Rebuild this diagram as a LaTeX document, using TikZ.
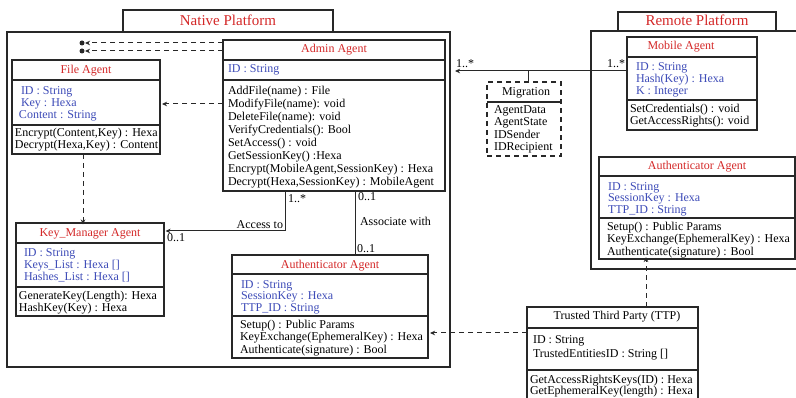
\documentclass[tikz,border=0pt]{standalone}
\usepackage{fontspec}
\setmainfont{Liberation Serif}
\usetikzlibrary{arrows.meta}

\definecolor{titlered}{RGB}{212,40,40}
\definecolor{attrblue}{RGB}{62,76,184}
\definecolor{linec}{RGB}{40,40,40}

\begin{document}
\begin{tikzpicture}[x=1pt,y=-1pt,
  every node/.style={inner sep=0pt, outer sep=0pt},
  txt/.style={font=\fontsize{12}{13}\selectfont},
  cls/.style={draw=linec, line width=1.3pt, fill=white, anchor=north west},
  platform/.style={draw=linec, line width=1.3pt, anchor=north west},
  ptitle/.style={font=\fontsize{15}{16}\selectfont, text=titlered, anchor=base},
  ttl/.style={txt, text=titlered, anchor=base},
  attr/.style={txt, text=attrblue, anchor=base west},
  meth/.style={txt, text=black, anchor=base west},
  lbl/.style={txt, text=black},
  sepline/.style={draw=linec, line width=1.3pt},
  assoc/.style={draw=linec, line width=1pt},
  dep/.style={draw=linec, line width=1pt, dash pattern=on 5pt off 4pt},
  tip/.style={-{Stealth[length=5pt,width=4.5pt,inset=1.5pt]}},
]
\useasboundingbox (0,0) rectangle (796,398);

% ---------- platforms ----------
\node[platform, minimum width=443pt, minimum height=335pt] (native) at (7,32) {};
\node[platform, fill=white, minimum width=210pt, minimum height=22pt] (nativeT) at (123,10) {};
\node[ptitle] at (228,26) {Native Platform};

\node[platform, minimum width=214pt, minimum height=238pt] (remote) at (591,31) {};
\node[platform, fill=white, minimum width=158pt, minimum height=19pt] (remoteT) at (618,12) {};
\node[ptitle] at (697,26) {Remote Platform};

% ---------- Admin Agent ----------
\node[cls, minimum width=222pt, minimum height=151pt] (admin) at (223,40) {};
\draw[sepline] (admin.west |- 0,60) -- (admin.east |- 0,60);
\draw[sepline] (admin.west |- 0,80) -- (admin.east |- 0,80);
\node[ttl] at (334,53) {Admin Agent};
\node[attr] at (228,73) {ID : String};
\node[meth] at (228,95) {AddFile(name) : File};
\node[meth] at (228,108) {ModifyFile(name): void};
\node[meth] at (228,121) {DeleteFile(name): void};
\node[meth] at (228,134) {VerifyCredentials(): Bool};
\node[meth] at (228,147) {SetAccess() : void};
\node[meth] at (228,160) {GetSessionKey() :Hexa};
\node[meth] at (228,173) {Encrypt(MobileAgent,SessionKey) : Hexa};
\node[meth] at (228,186) {Decrypt(Hexa,SessionKey) : MobileAgent};

% ---------- File Agent ----------
\node[cls, minimum width=148pt, minimum height=94pt] (file) at (12,60) {};
\draw[sepline] (file.west |- 0,80) -- (file.east |- 0,80);
\draw[sepline] (file.west |- 0,125) -- (file.east |- 0,125);
\node[ttl] at (86,74) {File Agent};
\node[attr] at (21,95) {ID : String};
\node[attr] at (21,107) {Key : Hexa};
\node[attr] at (19,119) {Content : String};
\node[meth] at (15,137) {Encrypt(Content,Key) : Hexa};
\node[meth] at (15,149) {Decrypt(Hexa,Key) : Content};

% ---------- Key_Manager Agent ----------
\node[cls, minimum width=148pt, minimum height=93pt] (keym) at (16,223) {};
\draw[sepline] (keym.west |- 0,243) -- (keym.east |- 0,243);
\draw[sepline] (keym.west |- 0,287) -- (keym.east |- 0,287);
\node[ttl] at (90,237) {Key\_Manager Agent};
\node[attr] at (24,257) {ID : String};
\node[attr] at (24,269) {Keys\_List : Hexa []};
\node[attr] at (24,281) {Hashes\_List : Hexa []};
\node[meth] at (19,300) {GenerateKey(Length): Hexa};
\node[meth] at (19,312) {HashKey(Key) : Hexa};

% ---------- Authenticator Agent (native) ----------
\node[cls, minimum width=196pt, minimum height=103pt] (authN) at (232,255) {};
\draw[sepline] (authN.west |- 0,274) -- (authN.east |- 0,274);
\draw[sepline] (authN.west |- 0,316) -- (authN.east |- 0,316);
\node[ttl] at (330,269) {Authenticator Agent};
\node[attr] at (241,289) {ID : String};
\node[attr] at (241,300) {SessionKey : Hexa};
\node[attr] at (241,312) {TTP\_ID : String};
\node[meth] at (240,329) {Setup() : Public Params};
\node[meth] at (240,341) {KeyExchange(EphemeralKey) : Hexa};
\node[meth] at (240,354) {Authenticate(signature) : Bool};

% ---------- Mobile Agent ----------
\node[cls, minimum width=130pt, minimum height=93pt] (mobile) at (627,37) {};
\draw[sepline] (mobile.west |- 0,57) -- (mobile.east |- 0,57);
\draw[sepline] (mobile.west |- 0,100) -- (mobile.east |- 0,100);
\node[ttl] at (681,50) {Mobile Agent};
\node[attr] at (636,71) {ID : String};
\node[attr] at (636,83) {Hash(Key) : Hexa};
\node[attr] at (636,95) {K : Integer};
\node[meth] at (630,113) {SetCredentials() : void};
\node[meth] at (630,125) {GetAccessRights(): void};

% ---------- Migration ----------
\node[cls, dep, line width=1.2pt, minimum width=74pt, minimum height=74pt] (migr) at (487,82) {};
\draw[sepline, line width=1.1pt] (migr.west |- 0,102) -- (migr.east |- 0,102);
\node[lbl, anchor=base] at (526,96) {Migration};
\node[meth] at (494,114) {AgentData};
\node[meth] at (494,126) {AgentState};
\node[meth] at (494,139) {IDSender};
\node[meth] at (494,151) {IDRecipient};

% ---------- Authenticator Agent (remote) ----------
\node[cls, minimum width=196pt, minimum height=102pt] (authR) at (599,157) {};
\draw[sepline] (authR.west |- 0,176) -- (authR.east |- 0,176);
\draw[sepline] (authR.west |- 0,218) -- (authR.east |- 0,218);
\node[ttl] at (697,170) {Authenticator Agent};
\node[attr] at (608,191) {ID : String};
\node[attr] at (608,202) {SessionKey : Hexa};
\node[attr] at (608,214) {TTP\_ID : String};
\node[meth] at (607,231) {Setup() : Public Params};
\node[meth] at (607,243) {KeyExchange(EphemeralKey) : Hexa};
\node[meth] at (607,256) {Authenticate(signature) : Bool};

% ---------- Trusted Third Party ----------
\node[cls, minimum width=171pt, minimum height=95pt] (ttp) at (527,307) {};
\draw[sepline] (ttp.west |- 0,328) -- (ttp.east |- 0,328);
\draw[sepline] (ttp.west |- 0,370) -- (ttp.east |- 0,370);
\node[lbl, anchor=base] at (617,320) {Trusted Third Party (TTP)};
\node[meth] at (533,344) {ID : String};
\node[meth] at (533,358) {TrustedEntitiesID : String []};
\node[meth] at (530,383) {GetAccessRightsKeys(ID) : Hexa};
\node[meth] at (530,395) {GetEphemeralKey(length) : Hexa};

% ---------- connectors ----------
% mobile agent migrates to the native platform
\coordinate (migIn) at ([xshift=5pt]native.east |- 0,71);
\draw[assoc, tip] (mobile.west |- 0,71) -- (migIn);
\coordinate (migJoin) at (528,71);
\draw[assoc] (migJoin) -- (migr.north -| migJoin);
\node[lbl, anchor=base west] at (456,68) {1..*};
\node[lbl, anchor=base east] at (625,68) {1..*};

% admin -> key manager
\draw[assoc, tip] (admin.south -| 285,0) |- ([xshift=1.5pt]keym.east |- 0,231);
\node[lbl, anchor=base west] at (288,203) {1..*};
\node[lbl, anchor=base east] at (283,229) {Access to};
\node[lbl, anchor=base west] at (167,242) {0..1};

% admin -- authenticator
\draw[assoc] (admin.south -| 355,0) -- (authN.north -| 355,0);
\node[lbl, anchor=base west] at (358,201) {0..1};
\node[lbl, anchor=base west] at (360,226) {Associate with};
\node[lbl, anchor=base west] at (357,253) {0..1};

% admin -> file agent
\draw[dep, tip] (admin.west |- 0,104) -- ([xshift=2pt]file.east |- 0,104);

% admin -> two free ends
\coordinate (endA) at (82,43);
\coordinate (endB) at (82,51);
\draw[dep, tip] (admin.west |- endA) -- ([xshift=3pt]endA);
\draw[dep, tip] (admin.west |- endB) -- ([xshift=3pt]endB);
\fill[linec] (endA) circle (2.5pt);
\fill[linec] (endB) circle (2.5pt);

% file agent -> key manager
\draw[dep, tip] (file.south -| 83,0) -- ([yshift=-1.5pt]keym.north -| 83,0);

% ttp -> authenticators
\draw[dep, tip] (ttp.west |- 0,333) -- ([xshift=2pt]authN.east |- 0,333);
\draw[dep, tip] (ttp.north -| 646,0) -- ([yshift=2pt]authR.south -| 646,0);
\end{tikzpicture}
\end{document}
